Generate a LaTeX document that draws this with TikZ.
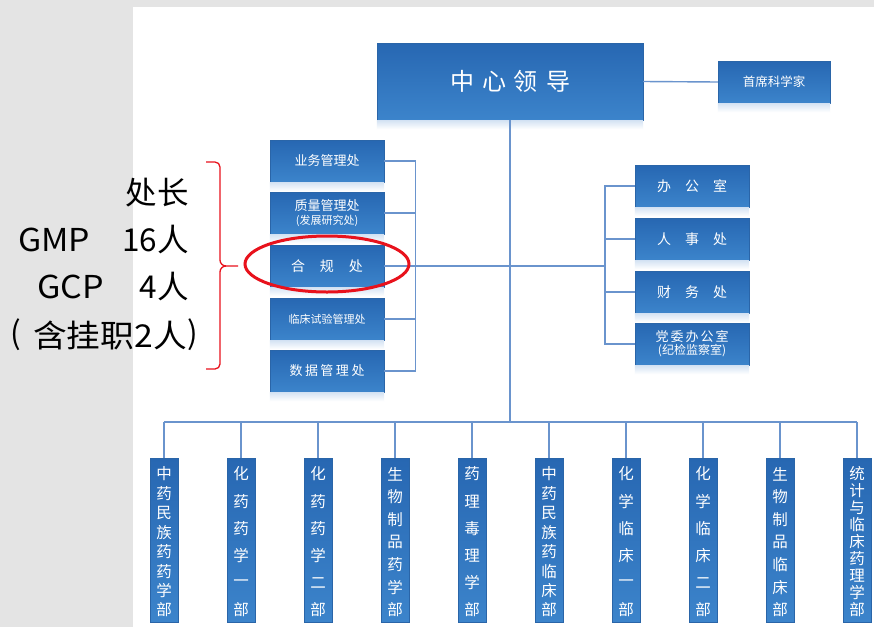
\documentclass[tikz,border=0pt]{standalone}
\usepackage{fontspec}
\setmainfont{Noto Sans CJK SC}
\definecolor{bggrey}{HTML}{E4E4E4}
\definecolor{boxtop}{HTML}{2767B2}
\definecolor{boxbot}{HTML}{3C84CB}
\definecolor{boxedge}{HTML}{2A65A8}
\definecolor{linec}{HTML}{6A94CD}
\definecolor{reflc}{HTML}{D3E2F3}
\definecolor{ovalred}{HTML}{E8121C}
\newcommand\refl[1]{\shade[top color=reflc, bottom color=white] (#1.south west) rectangle ([yshift=-9pt]#1.south east);}
\newcommand\mkcol[3]{%
  \node[bbox] (#1) at (#2,540) {};
  \foreach \c [count=\i] in {#3} {\xdef\ncount{\i}}%
  \foreach \c [count=\i] in {#3} {\node[btext] at (#2,{474+(\i-1)*136/(\ncount-1)}) {\c};}%
  \draw[conn] (#2,422) -- (#1.north);
}
\begin{document}
\begin{tikzpicture}[x=1pt,y=-1pt,
  box/.style={rectangle, top color=boxtop, bottom color=boxbot, draw=boxedge, line width=0.4pt, text=white, inner sep=0pt, align=center},
  lbox/.style={box, minimum width=114pt, minimum height=42pt, font=\fontsize{13}{16}\selectfont},
  bbox/.style={box, minimum width=28pt, minimum height=164pt},
  btext/.style={text=white, inner sep=0pt, font=\fontsize{15.5}{16}\selectfont},
  conn/.style={draw=linec, line width=1.4pt},
  lt/.style={inner sep=0pt, text=black, font=\fontsize{31.5}{34}\selectfont}]
\useasboundingbox (0,0) rectangle (874,627);
\fill[bggrey] (0,0) rectangle (874,627);
\fill[white] (133,7) rectangle (874,627);

% top level
\node[box, minimum width=266pt, minimum height=77pt, font=\fontsize{24}{28}\selectfont] (lead) at (510,81.5) {中\hspace{8pt}心\hspace{8pt}领\hspace{8pt}导};
\refl{lead}
\node[box, minimum width=112pt, minimum height=42pt, font=\fontsize{12.5}{15}\selectfont] (chief) at (774,82) {首席科学家};
\refl{chief}
\draw[conn] (lead.east) -- (chief.west);

% left column
\node[lbox] (l1) at (327,161) {业务管理处};
\node[lbox] (l2) at (327,213) {质量管理处\\[-2pt]{\fontsize{11}{13}\selectfont(发展研究处)}};
\node[lbox, font=\fontsize{14}{16}\selectfont] (l3) at (327,266) {合\hspace{15pt}规\hspace{15pt}处};
\node[lbox, font=\fontsize{11}{13}\selectfont] (l4) at (327,319) {临床试验管理处};
\node[lbox] (l5) at (327,371) {数\hspace{2.5pt}据\hspace{2.5pt}管\hspace{2.5pt}理\hspace{2.5pt}处};
\foreach \n in {l1,l2,l3,l4,l5} {\refl{\n}}

% right column
\node[lbox, font=\fontsize{14}{16}\selectfont] (r1) at (692,186) {办\hspace{14pt}公\hspace{14pt}室};
\node[lbox, font=\fontsize{14}{16}\selectfont] (r2) at (692,239) {人\hspace{14pt}事\hspace{14pt}处};
\node[lbox, font=\fontsize{14}{16}\selectfont] (r3) at (692,292) {财\hspace{14pt}务\hspace{14pt}处};
\node[lbox] (r4) at (692,344) {党\hspace{2pt}委\hspace{2pt}办\hspace{2pt}公\hspace{2pt}室\\[-3pt]{\fontsize{12}{13}\selectfont(纪检监察室)}};
\foreach \n in {r1,r2,r3,r4} {\refl{\n}}

% trunk and buses
\coordinate (tb) at (510,422);
\draw[conn] (lead.south) -- (tb);
\draw[conn] (164,422) -- (857,422);

\draw[conn] (l1.east) -- ++(31,0) |- (l5.east);
\foreach \n in {l2,l3,l4} {\draw[conn] (\n.east) -- ++(31,0);}
\draw[conn] (415,266) -- (510,266);

\draw[conn] (r1.west) -- ++(-30,0) |- (r4.west);
\foreach \n in {r2,r3} {\draw[conn] (\n.west) -- ++(-30,0);}
\draw[conn] (510,266) -- (605,266);

% bottom columns
\mkcol{b1}{164}{中,药,民,族,药,药,学,部}
\mkcol{b2}{241}{化,药,药,学,一,部}
\mkcol{b3}{318}{化,药,药,学,二,部}
\mkcol{b4}{395}{生,物,制,品,药,学,部}
\mkcol{b5}{472}{药,理,毒,理,学,部}
\mkcol{b6}{549}{中,药,民,族,药,临,床,部}
\mkcol{b7}{626}{化,学,临,床,一,部}
\mkcol{b8}{703}{化,学,临,床,二,部}
\mkcol{b9}{780}{生,物,制,品,临,床,部}
\mkcol{b10}{857}{统,计,与,临,床,药,理,学,部}

% annotation
\draw[ovalred, line width=3pt] (327,264) ellipse [x radius=82pt, y radius=28pt];
\draw[ovalred, line width=1.3pt, line join=round]
  (206,162) -- (215,162) to[out=0,in=90] (220,167) -- (220,260)
  to[out=-90,in=180] (226,266) -- (238,266);
\draw[ovalred, line width=1.3pt, line join=round]
  (226,266) to[out=180,in=90] (220,272) -- (220,364)
  to[out=-90,in=0] (215,369) -- (206,369);

\node[lt, anchor=east] (t1) at (189,193) {处长};
\node[lt, anchor=west] (t2a) at (18,240) {\scalebox{1.07}[1]{GMP}};
\node[lt, anchor=east] (t2b) at (189,240) {16人};
\node[lt, anchor=west] (t3a) at (37,287) {\scalebox{1.08}[1]{GCP}};
\node[lt, anchor=east] (t3b) at (189,287) {4人};
\node[lt, anchor=west] (t4a) at (10,335) {(};
\node[lt, anchor=east] (t4b) at (187,335) {\scalebox{1.07}[1]{含挂职2人}};
\node[lt, anchor=east] (t4c) at (198,335) {)};
\end{tikzpicture}
\end{document}
